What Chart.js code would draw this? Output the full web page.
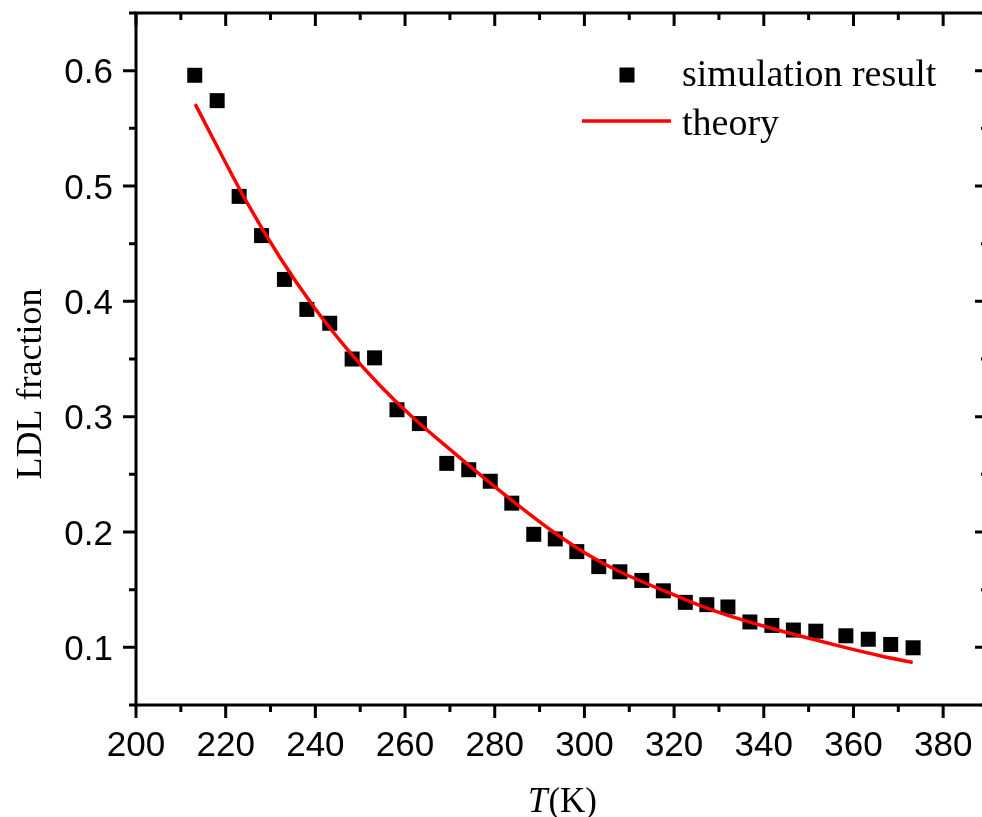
<!DOCTYPE html>
<html>
<head>
<meta charset="utf-8">
<script src="https://cdn.jsdelivr.net/npm/chart.js@4.4.0/dist/chart.umd.min.js"></script>
<style>
  html, body { margin: 0; padding: 0; background: #fff; overflow: hidden; }
  #wrap { width: 982px; height: 817px; overflow: hidden; position: relative; }
  canvas { display: block; }
</style>
</head>
<body>
<div id="wrap"><canvas id="c" width="1000" height="817"></canvas></div>
<script>
// ---- data ----
const simT = [213.1, 218.1, 223.0, 228.0, 233.1, 238.1, 243.2, 248.2, 253.2, 258.2, 263.2,
              269.3, 274.2, 279.0, 283.8, 288.7, 293.5, 298.3, 303.2, 307.9, 312.8, 317.6,
              322.5, 327.3, 332.0, 336.9, 341.8, 346.6, 351.6, 358.3, 363.3, 368.3, 373.3];
const simLDL = [0.596, 0.574, 0.491, 0.457, 0.419, 0.393, 0.381, 0.350, 0.351, 0.306, 0.294,
                0.2595, 0.254, 0.244, 0.225, 0.198, 0.194, 0.183, 0.170, 0.1655, 0.158, 0.149,
                0.139, 0.137, 0.135, 0.122, 0.119, 0.115, 0.114, 0.110, 0.107, 0.1025, 0.0996];
const theoryT = [213.2, 217.2, 224.7, 232.1, 239.5, 247.0, 254.4, 261.8, 270.8, 278.2,
                 285.6, 293.1, 300.5, 307.9, 318.4, 325.8, 333.2, 340.7, 348.1, 358.5,
                 365.9, 373.2];
const theoryLDL = [0.571, 0.541, 0.486, 0.438, 0.396, 0.359, 0.327, 0.299, 0.269, 0.245,
                   0.222, 0.200, 0.181, 0.1655, 0.148, 0.1362, 0.1262, 0.1176, 0.1098, 0.0995,
                   0.0927, 0.0869];
const xMajorTicks = [200, 220, 240, 260, 280, 300, 320, 340, 360, 380];
const xTickLabels = ['200', '220', '240', '260', '280', '300', '320', '340', '360', '380'];
const xMinorTicks = [210, 230, 250, 270, 290, 310, 330, 350, 370, 390];
const yMajorTicks = [0.1, 0.2, 0.3, 0.4, 0.5, 0.6];
const yTickLabels = ['0.1', '0.2', '0.3', '0.4', '0.5', '0.6'];
const yMinorTicks = [0.05, 0.15, 0.25, 0.35, 0.45, 0.55, 0.65];
const seriesLabels = ['simulation result', 'theory'];
const xTitleItalic = 'T';
const xTitleRest = '(K)';
const yTitle = 'LDL fraction';

const TICK_FONT = '35px "Liberation Sans", Arial, sans-serif';
const TITLE_FONT = '36px "Liberation Serif", "Times New Roman", serif';
const XTITLE_FONT = '35px "Liberation Serif", "Times New Roman", serif';
const XTITLE_FONT_I = 'italic 35px "Liberation Serif", "Times New Roman", serif';
const LEGEND_FONT = '38px "Liberation Serif", "Times New Roman", serif';

const framePlugin = {
  id: 'frame',
  afterDraw(chart) {
    const { ctx, chartArea: a, scales: { x, y } } = chart;
    const MAJ = 13, MIN = 7;
    ctx.save();
    ctx.strokeStyle = '#000';
    ctx.fillStyle = '#000';
    ctx.lineWidth = 3;
    ctx.lineCap = 'butt';
    ctx.strokeRect(a.left, a.top, a.right - a.left, a.bottom - a.top);
    ctx.beginPath();
    const xt = (vals, len) => vals.forEach(v => {
      const px = x.getPixelForValue(v);
      ctx.moveTo(px, a.bottom); ctx.lineTo(px, a.bottom + len);   // bottom, outward
      ctx.moveTo(px, a.top); ctx.lineTo(px, a.top + len);         // top, inward
    });
    const yt = (vals, len) => vals.forEach(v => {
      const py = y.getPixelForValue(v);
      ctx.moveTo(a.left, py); ctx.lineTo(a.left - len, py);       // left, outward
      ctx.moveTo(a.right, py); ctx.lineTo(a.right - len, py);     // right, inward
    });
    xt(xMajorTicks, MAJ); xt(xMinorTicks, MIN);
    yt(yMajorTicks, MAJ); yt(yMinorTicks, MIN);
    ctx.stroke();

    // tick labels
    ctx.font = TICK_FONT;
    ctx.textBaseline = 'alphabetic';
    ctx.textAlign = 'center';
    xMajorTicks.forEach((v, i) => ctx.fillText(xTickLabels[i], x.getPixelForValue(v), a.bottom + 51));
    ctx.textAlign = 'right';
    yMajorTicks.forEach((v, i) => ctx.fillText(yTickLabels[i], a.left - 23, y.getPixelForValue(v) + 12.5));

    // axis titles
    ctx.font = XTITLE_FONT_I;
    const wT = ctx.measureText(xTitleItalic).width;
    ctx.font = XTITLE_FONT;
    const wR = ctx.measureText(xTitleRest).width;
    const cx = (a.left + a.right) / 2;
    let sx = cx - (wT + wR) / 2;
    ctx.textAlign = 'left';
    ctx.font = XTITLE_FONT_I;
    ctx.fillText(xTitleItalic, sx, 812);
    ctx.font = XTITLE_FONT;
    ctx.fillText(xTitleRest, sx + wT + 1, 812);

    ctx.save();
    ctx.translate(41, 384);
    ctx.rotate(-Math.PI / 2);
    ctx.textAlign = 'center';
    ctx.font = TITLE_FONT;
    ctx.fillText(yTitle, 0, 0);
    ctx.restore();

    // legend
    const ds = chart.data.datasets;
    const sim = ds.find(d => d.label === seriesLabels[0]);
    const th = ds.find(d => d.label === seriesLabels[1]);
    ctx.fillStyle = sim.backgroundColor;
    ctx.fillRect(627 - 7.5, 75 - 7.5, 15, 15);
    ctx.strokeStyle = th.borderColor;
    ctx.lineWidth = th.borderWidth;
    ctx.beginPath();
    ctx.moveTo(582, 121); ctx.lineTo(671, 121);
    ctx.stroke();
    ctx.fillStyle = '#000';
    ctx.font = LEGEND_FONT;
    ctx.textAlign = 'left';
    ctx.fillText(seriesLabels[0], 682, 86);
    ctx.fillText(seriesLabels[1], 682, 135);
    ctx.restore();
  }
};

function build() {
  new Chart(document.getElementById('c'), {
    type: 'scatter',
    data: {
      datasets: [
        {
          label: seriesLabels[1],
          data: theoryT.map((t, i) => ({ x: t, y: theoryLDL[i] })),
          showLine: true,
          borderColor: '#ff0000',
          borderWidth: 3.5,
          pointRadius: 0,
          fill: false,
          cubicInterpolationMode: 'monotone',
          order: 0
        },
        {
          label: seriesLabels[0],
          data: simT.map((t, i) => ({ x: t, y: simLDL[i] })),
          showLine: false,
          pointStyle: 'rect',
          pointRadius: 10.6,
          pointBorderWidth: 0,
          backgroundColor: '#000000',
          borderColor: '#000000',
          order: 1
        }
      ]
    },
    options: {
      responsive: false,
      animation: false,
      devicePixelRatio: 1,
      layout: { padding: { left: 136, top: 13, right: 12, bottom: 112 } },
      plugins: { legend: { display: false }, tooltip: { enabled: false } },
      scales: {
        x: { type: 'linear', min: 200, max: 390, display: false },
        y: { type: 'linear', min: 0.05, max: 0.65, display: false }
      }
    },
    plugins: [framePlugin]
  });
}

Promise.all([
  document.fonts.load(TICK_FONT),
  document.fonts.load(TITLE_FONT),
  document.fonts.load(XTITLE_FONT_I),
  document.fonts.load(LEGEND_FONT)
]).then(build, build);
</script>
</body>
</html>
